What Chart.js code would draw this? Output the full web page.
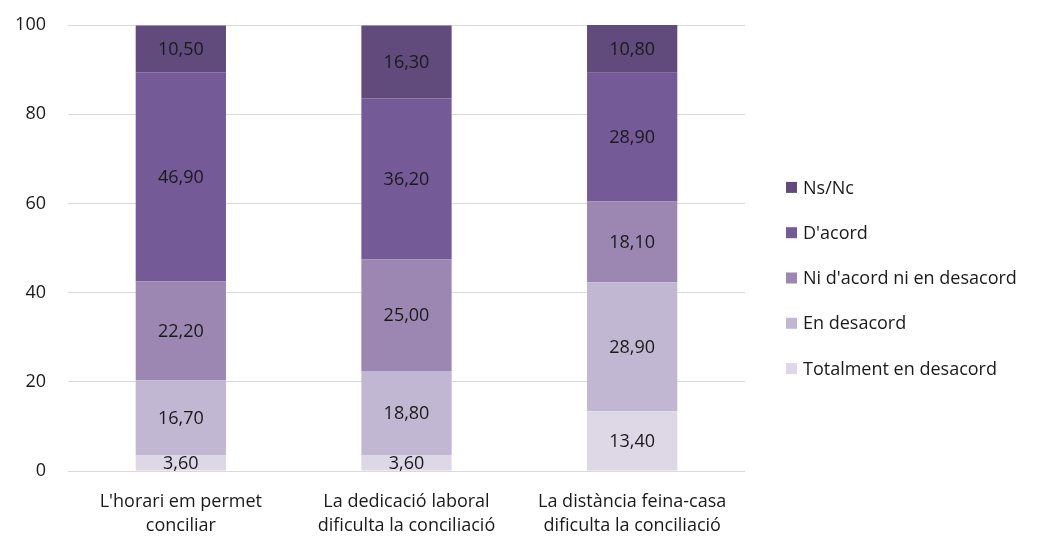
<!DOCTYPE html>
<html>
<head>
<meta charset="utf-8">
<script src="https://cdn.jsdelivr.net/npm/chart.js@4/dist/chart.umd.min.js"></script>
<style>
    html, body { margin: 0; padding: 0; background: #fff; }
    #wrap { width: 1054px; height: 541px; position: relative; }
</style>
</head>
<body>
<div id="wrap"><canvas id="chart"></canvas></div>
<script>
const categories = [
    ["L'horari em permet", "conciliar"],
    ["La dedicació laboral", "dificulta la conciliació"],
    ["La distància feina-casa", "dificulta la conciliació"]
];
const seriesNames = ["Totalment en desacord", "En desacord", "Ni d'acord ni en desacord", "D'acord", "Ns/Nc"];
const totalmentDesacord = [3.6, 3.6, 13.4];
const enDesacord = [16.7, 18.8, 28.9];
const niAcordNiDesacord = [22.2, 25.0, 18.1];
const dAcord = [46.9, 36.2, 28.9];
const nsNc = [10.5, 16.3, 10.8];
const yTicks = [0, 20, 40, 60, 80, 100];

const colors = ['#ddd7e6', '#c2b7d2', '#9c87b3', '#745b97', '#604b7c'];
const fontFamily = "'Open Sans', sans-serif";
const fontSize = 18;
const textColor = '#1a1a1a';

const seriesValues = [totalmentDesacord, enDesacord, niAcordNiDesacord, dAcord, nsNc];

// writes the value in the middle of every segment
const valueLabels = {
    id: 'valueLabels',
    afterDatasetsDraw(chart) {
        const ctx = chart.ctx;
        ctx.save();
        ctx.font = `${fontSize}px ${fontFamily}`;
        ctx.fillStyle = textColor;
        ctx.textAlign = 'center';
        ctx.textBaseline = 'middle';
        chart.data.datasets.forEach((ds, i) => {
            const meta = chart.getDatasetMeta(i);
            meta.data.forEach((bar, j) => {
                const label = ds.data[j].toFixed(2).replace('.', ',');
                const y = (bar.y + bar.base) / 2;
                ctx.fillText(label, bar.x, y + 1);
            });
        });
        ctx.restore();
    }
};

// legend on the right, last series on top (like the original)
const sideLegend = {
    id: 'sideLegend',
    afterDraw(chart) {
        const ctx = chart.ctx;
        const items = chart.data.datasets.slice().reverse();
        const step = 45.3;
        const top = 278 - step * (items.length - 1) / 2;
        ctx.save();
        ctx.font = `${fontSize}px ${fontFamily}`;
        ctx.textAlign = 'left';
        ctx.textBaseline = 'middle';
        items.forEach((ds, i) => {
            const y = top + i * step;
            ctx.fillStyle = ds.backgroundColor;
            ctx.fillRect(786, y - 5.5, 11, 11);
            ctx.fillStyle = textColor;
            ctx.fillText(ds.label, 803, y + 1);
        });
        ctx.restore();
    }
};

const data = {
    labels: categories,
    datasets: seriesNames.map((name, i) => ({
        label: name,
        data: seriesValues[i],
        backgroundColor: colors[i],
        borderWidth: 0,
        categoryPercentage: 1,
        barPercentage: 0.4
    }))
};

const config = {
    type: 'bar',
    data: data,
    options: {
        responsive: false,
        animation: false,
        layout: { padding: { top: 25, right: 309, left: 0, bottom: 0 } },
        scales: {
            x: {
                stacked: true,
                grid: { display: false },
                border: { display: false },
                afterFit: axis => { axis.height = 70; },
                ticks: {
                    color: textColor,
                    font: { family: fontFamily, size: fontSize, lineHeight: 1.33 },
                    padding: 11,
                    maxRotation: 0
                }
            },
            y: {
                stacked: true,
                min: 0,
                max: 100,
                afterBuildTicks: axis => { axis.ticks = yTicks.map(v => ({ value: v })); },
                afterFit: axis => { axis.width = 68; axis.paddingTop = 0; },
                grid: { color: '#d9d9d9', lineWidth: 1, drawTicks: false },
                border: { display: false },
                ticks: {
                    color: textColor,
                    font: { family: fontFamily, size: fontSize },
                    padding: 22
                }
            }
        },
        plugins: {
            legend: { display: false },
            tooltip: { enabled: false }
        }
    },
    plugins: [valueLabels, sideLegend]
};

const canvas = document.getElementById('chart');
canvas.width = 1054;
canvas.height = 541;
new Chart(canvas, config);
</script>
</body>
</html>
